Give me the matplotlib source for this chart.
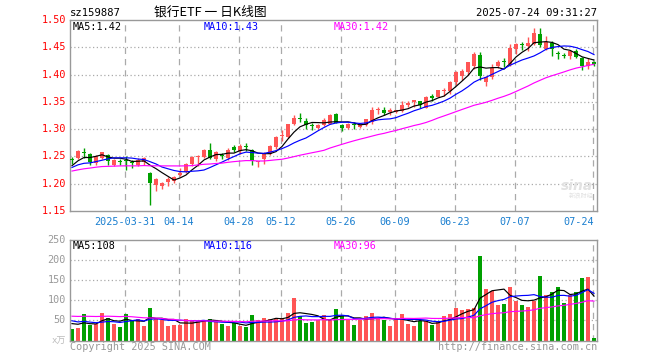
import matplotlib
matplotlib.use('Agg')
import matplotlib.pyplot as plt
import numpy as np
import pandas as pd

# ---------------- data ----------------
holidays = ['2025-04-04', '2025-05-01', '2025-05-02', '2025-05-05', '2025-06-02']
dates = [d.strftime('%Y-%m-%d') for d in pd.bdate_range('2025-03-18', '2025-07-24')
         if d.strftime('%Y-%m-%d') not in holidays]

opens = [1.245, 1.247, 1.257, 1.255, 1.238, 1.248, 1.252, 1.235, 1.2405, 1.242,
         1.240, 1.2335, 1.239, 1.2195, 1.198, 1.196, 1.2023, 1.205, 1.2155, 1.222,
         1.237, 1.2495, 1.2495, 1.262, 1.2445, 1.2515, 1.2465, 1.2665, 1.260, 1.2675,
         1.261, 1.239, 1.246, 1.255, 1.2665, 1.2875, 1.2855, 1.309, 1.3188, 1.3142,
         1.3058, 1.302, 1.3085, 1.3103, 1.328, 1.3075, 1.303, 1.3078, 1.3045, 1.3075,
         1.313, 1.3345, 1.335, 1.332, 1.3305, 1.334, 1.344, 1.350, 1.3507, 1.3396,
         1.358, 1.3592, 1.3695, 1.369, 1.3855, 1.3977, 1.4038, 1.4161, 1.4357, 1.3867,
         1.3959, 1.4161, 1.4225, 1.4191, 1.4466, 1.4545, 1.4527, 1.4558, 1.4741, 1.4467,
         1.4577, 1.4378, 1.4346, 1.4332, 1.4436, 1.431, 1.4148, 1.4205]
highs = [1.249, 1.262, 1.265, 1.257, 1.253, 1.259, 1.254, 1.245, 1.245, 1.251,
         1.243, 1.247, 1.249, 1.222, 1.210, 1.204, 1.2115, 1.2145, 1.228, 1.238,
         1.250, 1.2524, 1.264, 1.275, 1.260, 1.256, 1.265, 1.271, 1.272, 1.275,
         1.263, 1.242, 1.258, 1.271, 1.288, 1.298, 1.310, 1.326, 1.329, 1.320,
         1.312, 1.310, 1.320, 1.328, 1.330, 1.310, 1.312, 1.313, 1.310, 1.319,
         1.341, 1.341, 1.341, 1.339, 1.3355, 1.352, 1.352, 1.3535, 1.352, 1.360,
         1.364, 1.372, 1.375, 1.3875, 1.407, 1.410, 1.4234, 1.4405, 1.442, 1.3965,
         1.4191, 1.427, 1.4295, 1.456, 1.4576, 1.459, 1.468, 1.4846, 1.4846, 1.471,
         1.462, 1.4436, 1.440, 1.4454, 1.446, 1.432, 1.4295, 1.424]
lows = [1.237, 1.245, 1.247, 1.235, 1.235, 1.246, 1.235, 1.233, 1.234, 1.226,
        1.228, 1.232, 1.234, 1.161, 1.187, 1.190, 1.195, 1.2005, 1.2145, 1.219,
        1.233, 1.233, 1.247, 1.245, 1.242, 1.246, 1.244, 1.258, 1.254, 1.260,
        1.235, 1.230, 1.236, 1.253, 1.264, 1.2787, 1.284, 1.308, 1.314, 1.2995,
        1.299, 1.301, 1.306, 1.309, 1.311, 1.296, 1.300, 1.2995, 1.303, 1.3065,
        1.309, 1.328, 1.3265, 1.3265, 1.329, 1.332, 1.341, 1.341, 1.339, 1.338,
        1.351, 1.358, 1.361, 1.3645, 1.380, 1.390, 1.399, 1.411, 1.390, 1.3794,
        1.3916, 1.4124, 1.4131, 1.416, 1.4375, 1.4454, 1.443, 1.454, 1.450, 1.4455,
        1.4345, 1.428, 1.4295, 1.428, 1.430, 1.408, 1.410, 1.415]
closes = [1.244, 1.260, 1.256, 1.240, 1.251, 1.258, 1.241, 1.244, 1.240, 1.241,
          1.238, 1.243, 1.247, 1.201, 1.209, 1.2015, 1.209, 1.213, 1.220, 1.236,
          1.249, 1.2505, 1.262, 1.247, 1.2585, 1.251, 1.262, 1.262, 1.270, 1.267,
          1.241, 1.2405, 1.257, 1.2696, 1.286, 1.288, 1.309, 1.320, 1.3185, 1.3085,
          1.3052, 1.3078, 1.3175, 1.326, 1.312, 1.3025, 1.3088, 1.3075, 1.3085, 1.318,
          1.3351, 1.3348, 1.3287, 1.3323, 1.3348, 1.3443, 1.347, 1.3532, 1.3434, 1.3598,
          1.3578, 1.3715, 1.3702, 1.386, 1.4055, 1.4069, 1.4222, 1.4375, 1.3977, 1.3947,
          1.4112, 1.4234, 1.4222, 1.4485, 1.4558, 1.454, 1.4576, 1.476, 1.454, 1.4601,
          1.4467, 1.4375, 1.4344, 1.4436, 1.4315, 1.416, 1.4222, 1.420]
volumes = [28, 32, 66, 39, 41, 68, 57, 41, 33, 66,
           51, 53, 36, 81, 55, 52, 36, 38, 38, 53,
           51, 49, 49, 53, 47, 41, 36, 43, 36, 33,
           63, 51, 56, 53, 53, 57, 68, 106, 61, 43,
           46, 51, 63, 52, 78, 61, 52, 38, 52, 61,
           68, 57, 52, 36, 55, 66, 41, 36, 49, 49,
           38, 47, 61, 66, 82, 76, 78, 81, 209, 128,
           123, 88, 91, 133, 99, 88, 83, 99, 161, 113,
           121, 132, 94, 112, 121, 155, 157, 7]

# closes / volumes before the visible window (estimated from the MA lines)
prior_closes = [1.195, 1.198, 1.200, 1.203, 1.222, 1.230, 1.232, 1.229, 1.236, 1.240,
                1.242, 1.232, 1.215, 1.208, 1.205, 1.210, 1.214, 1.222, 1.230, 1.236,
                1.212, 1.228, 1.232, 1.228, 1.233, 1.215, 1.226, 1.240, 1.240]
prior_volumes = [48, 55, 45, 52, 58, 44, 56, 50, 47,
                 80, 95, 72, 88, 70, 85, 78, 65, 90, 75, 70,
                 60, 52, 58, 55, 55,
                 40, 48, 50, 44]

tick_labels = ['2025-03-31', '04-14', '04-28', '05-12', '05-26', '06-09', '06-23', '07-07', '07-24']
tick_dates = ['2025-03-31', '2025-04-14', '2025-04-28', '2025-05-12', '2025-05-26',
              '2025-06-09', '2025-06-23', '2025-07-07', '2025-07-24']

price_ticks = [1.15, 1.20, 1.25, 1.30, 1.35, 1.40, 1.45, 1.50]
vol_ticks = [50, 100, 150, 200, 250]

title_code = 'sz159887'
title_main = '银行ETF 一 日K线图'
timestamp = '2025-07-24 09:31:27'
ma_price_text = ['MA5:1.42', 'MA10:1.43', 'MA30:1.42']
ma_vol_text = ['MA5:108', 'MA10:116', 'MA30:96']

# ---------------- style ----------------
W, H = 660, 360
RED = '#ff5555'
GREEN = '#00a000'
GRID = '#aaaaaa'
FRAME = '#999999'
MONO = 'DejaVu Sans Mono'
MA_COLORS = ['#000000', '#0000ff', '#ff00ff']

fig = plt.figure(figsize=(W / 100, H / 100), dpi=100)
fig.patch.set_facecolor('white')


def px_axes(x0, y0, x1, y1):
    return fig.add_axes([x0 / W, 1 - y1 / H, (x1 - x0) / W, (y1 - y0) / H])


def ftext(x, y, s, **kw):
    fig.text(x / W, 1 - y / H, s, **kw)


ax = px_axes(70, 20, 597, 211)
axv = px_axes(70, 240, 597, 340.5)

n = len(dates)
xs = np.arange(n)
o = np.array(opens); h = np.array(highs); l = np.array(lows); c = np.array(closes)
v = np.array(volumes)
up = c >= o
cols = np.where(up, RED, GREEN)

xlim = (-1 / 3, 87.5)
tick_idx = [dates.index(d) for d in tick_dates]

for a in (ax, axv):
    a.set_xlim(*xlim)
    a.set_xticks([])
    a.set_yticks([])
    for s in a.spines.values():
        s.set_color(FRAME)
        s.set_linewidth(1.0)
    for ti in tick_idx:
        a.axvline(ti - 0.25, color=GRID, lw=0.9, ls=(0, (5, 4)), zorder=0)

ax.set_ylim(1.15, 1.50)
for p in price_ticks[1:-1]:
    ax.axhline(p, color=GRID, lw=0.9, ls=(0, (1, 2)), zorder=0)
axv.set_ylim(0, 250)
for t in vol_ticks[:-1]:
    axv.axhline(t, color=GRID, lw=0.9, ls=(0, (1, 2)), zorder=0)

# candles
bw = 0.78
onepx = 0.35 / 191
ax.vlines(xs, l, h, colors=cols, lw=1.0, zorder=2)
body_bottom = np.minimum(o, c)
body_h = np.maximum(np.abs(c - o), onepx * 1.2)
ax.bar(xs, body_h, bottom=body_bottom, width=bw, color=cols, linewidth=0, zorder=3)

# price MAs
full_c = pd.Series(list(prior_closes) + list(closes))
for win, col in zip([5, 10, 30], MA_COLORS):
    ma = full_c.rolling(win).mean().values[-n:]
    ax.plot(xs, ma, color=col, lw=0.85, zorder=4)

# volume bars
axv.bar(xs, v, width=0.82, color=cols, linewidth=0, zorder=2)
full_v = pd.Series(list(prior_volumes) + list(volumes))
for win, col in zip([5, 10, 30], MA_COLORS):
    ma = full_v.rolling(win).mean().values[-n:]
    axv.plot(xs, ma, color=col, lw=0.85, zorder=3)

# ---------------- texts ----------------
fs = 7.3
ftext(70, 13, title_code, fontsize=7.6, family=MONO, va='center', ha='left', color='#000000')
ftext(210, 12.5, title_main, fontsize=9.2, family=['Noto Sans CJK SC', 'DejaVu Sans'],
      va='center', ha='center', color='#000000')
ftext(597, 13, timestamp, fontsize=7.6, family=MONO, va='center', ha='right', color='#000000')

for txt, xx, col in zip(ma_price_text, [73, 204, 334], MA_COLORS):
    ftext(xx, 27, txt, fontsize=fs, family=MONO, va='center', ha='left', color=col)
for txt, xx, col in zip(ma_vol_text, [73, 204, 334], MA_COLORS):
    ftext(xx, 246, txt, fontsize=fs, family=MONO, va='center', ha='left', color=col)

for p in price_ticks:
    y = 211 - (p - 1.15) / 0.35 * 191
    ftext(66, y, f'{p:.2f}', fontsize=fs, family=MONO, va='center', ha='right', color='#ff0000')
for t in vol_ticks:
    y = 340.3 - t * 0.4
    ftext(66, y, f'{t}', fontsize=fs, family=MONO, va='center', ha='right', color='#999999')
ftext(66, 341, 'x万', fontsize=6.5, family=['DejaVu Sans Mono', 'Noto Sans CJK SC'],
      va='center', ha='right', color='#bbbbbb')

for lab, ti in zip(tick_labels, tick_idx):
    xpix = 70 + (ti - 0.25 - xlim[0]) / (xlim[1] - xlim[0]) * 527
    ha = 'center'
    if lab == tick_labels[-1]:
        xpix = 594
        ha = 'right'
    ftext(xpix, 222, lab, fontsize=fs, family=MONO, va='center', ha=ha, color='#1a7fd0')

ftext(70, 347, 'Copyright 2025 SINA.COM', fontsize=fs, family=MONO, va='center',
      ha='left', color='#999999')
ftext(597, 347, 'http://finance.sina.com.cn', fontsize=fs, family=MONO, va='center',
      ha='right', color='#999999')

# watermark
ftext(577, 186, 'sina', fontsize=10, family='DejaVu Sans', style='italic', weight='bold',
      va='center', ha='center', color='#e2e2e2')
ftext(581, 196, '新浪财经', fontsize=4.5, family=['Noto Sans CJK SC'], va='center',
      ha='center', color='#e2e2e2')

fig.savefig('out.png', dpi=100)
